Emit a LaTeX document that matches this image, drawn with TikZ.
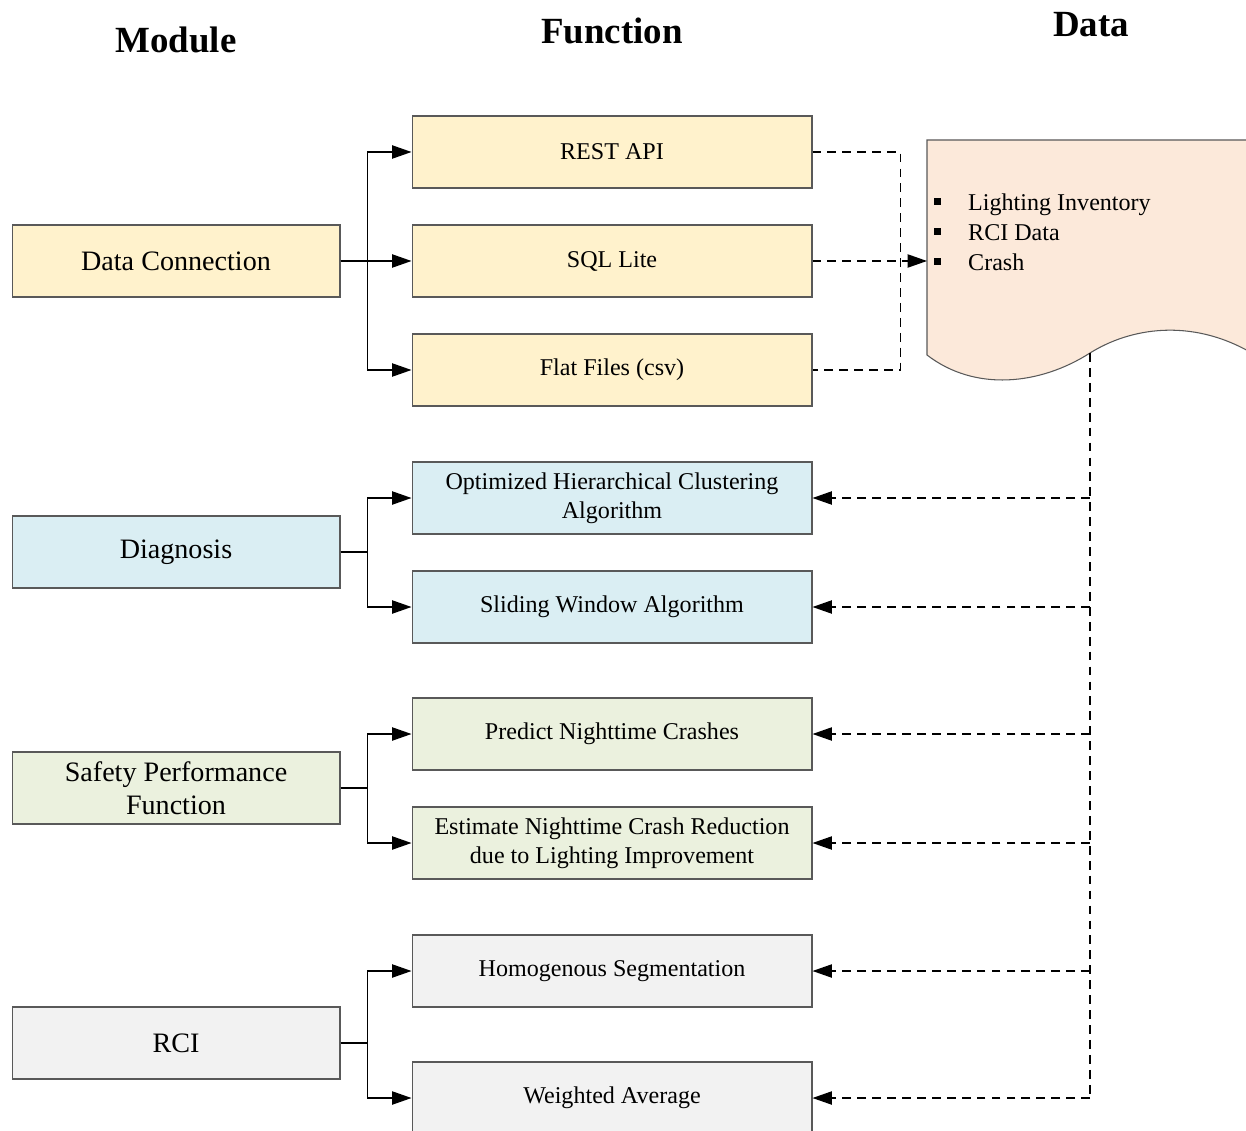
\documentclass[tikz,border=0pt]{standalone}
\usepackage{fontspec}
\setmainfont{Liberation Serif}
\usetikzlibrary{arrows.meta, positioning}

\definecolor{dcfill}{HTML}{FFF2CC}
\definecolor{dgfill}{HTML}{DAEEF3}
\definecolor{spfill}{HTML}{EBF1DE}
\definecolor{rcfill}{HTML}{F2F2F2}
\definecolor{docfill}{HTML}{FCE9DA}
\definecolor{edge}{HTML}{595959}

\begin{document}
\begin{tikzpicture}[x=0.02cm, y=-0.02cm,
    modbox/.style={draw=edge, line width=0.6pt, minimum width=6.56cm, minimum height=1.44cm,
        inner sep=0pt, align=center, font=\fontsize{16}{19}\selectfont},
    funbox/.style={draw=edge, line width=0.6pt, minimum width=8cm, minimum height=1.44cm,
        inner sep=0pt, align=center, font=\fontsize{13.7}{16.4}\selectfont},
    head/.style={font=\fontsize{21}{25}\selectfont\bfseries},
    item/.style={anchor=base west, font=\fontsize{13.7}{16.4}\selectfont},
    link/.style={line width=0.8pt, -{Triangle[length=11pt,width=7.5pt]}},
    feed/.style={link, dash pattern=on 5pt off 3.5pt}]
    \useasboundingbox (0,0) rectangle (1246,1131);

    % headings
    \node[head] (hmod) at (176,40) {Module};
    \node[head] (hfun) at (612,31) {Function};
    \node[head] (hdat) at (1091,25) {Data};

    % modules
    \node[modbox, fill=dcfill] (dc) at (176,261) {Data Connection};
    \node[modbox, fill=dgfill] (dg) at (176,552) {Diagnosis};
    \node[modbox, fill=spfill] (spf) at (176,788) {Safety Performance\\Function};
    \node[modbox, fill=rcfill] (rci) at (176,1043) {RCI};

    % functions
    \node[funbox, fill=dcfill] (rest) at (612,152) {REST API};
    \node[funbox, fill=dcfill] (sql) at (612,261) {SQL Lite};
    \node[funbox, fill=dcfill] (flat) at (612,370) {Flat Files (csv)};
    \node[funbox, fill=dgfill] (ohc) at (612,498) {Optimized Hierarchical Clustering\\Algorithm};
    \node[funbox, fill=dgfill] (swa) at (612,607) {Sliding Window Algorithm};
    \node[funbox, fill=spfill] (pnc) at (612,734) {Predict Nighttime Crashes};
    \node[funbox, fill=spfill] (encr) at (612,843) {Estimate Nighttime Crash Reduction\\due to Lighting Improvement};
    \node[funbox, fill=rcfill] (hseg) at (612,971) {Homogenous Segmentation};
    \node[funbox, fill=rcfill] (wavg) at (612,1098) {Weighted Average};

    % data document
    \filldraw[fill=docfill, draw=edge, line width=0.6pt]
        (1250,140) -- (927,140) -- (927,355)
        .. controls (975,392) and (1040,385) .. (1090,353)
        .. controls (1130,328) and (1190,318) .. (1250,352);
    \coordinate (docin) at (927,261);
    \coordinate (docout) at (1090,353);
    \foreach \yy in {203,233,263}
        \fill (934,\yy-5) rectangle (941,\yy+2);
    \node[item] (lit) at (962,211) {Lighting Inventory};
    \node[item] (rcid) at (962,241) {RCI Data};
    \node[item] (crash) at (962,271) {Crash};

    % module -> function
    \draw[link] (dc.east) -- ++(27,0) |- (rest.west);
    \draw[link] (dc.east) -- (sql.west);
    \draw[link] (dc.east) -- ++(27,0) |- (flat.west);
    \draw[link] (dg.east) -- ++(27,0) |- (ohc.west);
    \draw[link] (dg.east) -- ++(27,0) |- (swa.west);
    \draw[link] (spf.east) -- ++(27,0) |- (pnc.west);
    \draw[link] (spf.east) -- ++(27,0) |- (encr.west);
    \draw[link] (rci.east) -- ++(27,0) |- (hseg.west);
    \draw[link] (rci.east) -- ++(27,0) |- (wavg.west);

    % sources -> data
    \draw[line width=0.8pt, dash pattern=on 5pt off 3.5pt] (rest.east) -- ++(88,0) |- (flat.east);
    \draw[feed] (sql.east) -- (docin);

    % data -> functions
    \draw[line width=0.8pt, dash pattern=on 5pt off 3.5pt] (docout) -- (docout |- wavg.east);
    \foreach \n in {ohc,swa,pnc,encr,hseg,wavg}
        \draw[feed] (docout |- \n.east) -- (\n.east);
\end{tikzpicture}
\end{document}
